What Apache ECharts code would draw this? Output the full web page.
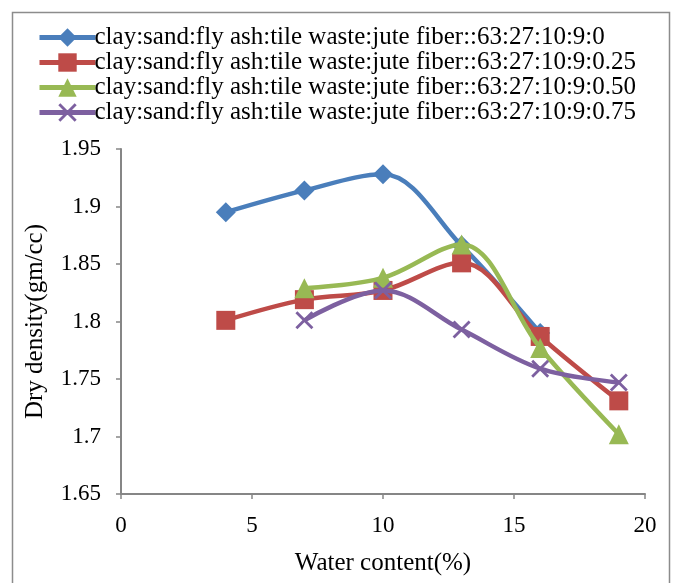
<!DOCTYPE html>
<html><head><meta charset="utf-8">
<script src="https://cdn.jsdelivr.net/npm/echarts@6/dist/echarts.min.js"></script>
<style>html,body{margin:0;padding:0;background:#fff}#c{width:673px;height:583px}</style>
</head><body><div id="c"></div>
<script>
const seriesNames = [
  'clay:sand:fly ash:tile waste:jute fiber::63:27:10:9:0',
  'clay:sand:fly ash:tile waste:jute fiber::63:27:10:9:0.25',
  'clay:sand:fly ash:tile waste:jute fiber::63:27:10:9:0.50',
  'clay:sand:fly ash:tile waste:jute fiber::63:27:10:9:0.75'
];
const water0 = [4, 7, 10, 13, 16];
const density0 = [1.895, 1.914, 1.928, 1.866, 1.790];
const water25 = [4, 7, 10, 13, 16, 19];
const density25 = [1.801, 1.819, 1.827, 1.851, 1.787, 1.731];
const water50 = [7, 10, 13, 16, 19];
const density50 = [1.829, 1.838, 1.867, 1.777, 1.702];
const water75 = [7, 10, 13, 16, 19];
const density75 = [1.801, 1.827, 1.793, 1.759, 1.747];
const yTicks = ['1.65','1.7','1.75','1.8','1.85','1.9','1.95'];

const colors = ['#4a7ebb', '#be4b48', '#98b954', '#7d60a0'];
const symbols = ['diamond', 'rect', 'triangle',
  'path://M0,1.1L1.1,0L10,8.9L8.9,10Z M8.9,0L10,1.1L1.1,10L0,8.9Z'];
const sizes = [20, 19, 20, 18];
const xs = [water0, water25, water50, water75];
const ys = [density0, density25, density50, density75];
const font = 'Liberation Serif';

const chart = echarts.init(document.getElementById('c'), null, {renderer: 'canvas'});
chart.setOption({
  animation: false,
  backgroundColor: '#fff',
  textStyle: {fontFamily: font, color: '#000'},
  graphic: [{
    type: 'rect', left: 10, top: 10,
    shape: {width: 657, height: 600},
    style: {fill: 'none', stroke: '#8c8c8c', lineWidth: 1.5}
  }],
  legend: {
    orient: 'vertical', left: 32, top: 20, itemGap: 0,
    itemWidth: 56, itemHeight: 23,
    lineStyle: {width: 5},
    textStyle: {fontFamily: font, fontSize: 25, lineHeight: 24, color: '#000', padding: [0,0,0,-6]},
    data: seriesNames
  },
  grid: {left: 121, right: 28, top: 149, bottom: 89, containLabel: false},
  xAxis: {
    type: 'value', min: 0, max: 20, interval: 5,
    name: 'Water content(%)', nameLocation: 'middle', nameGap: 57,
    nameTextStyle: {fontFamily: font, fontSize: 25, color: '#000'},
    axisLine: {show: true, lineStyle: {color: '#868686', width: 2}},
    axisTick: {show: true, length: 5, lineStyle: {color: '#868686', width: 1.5}},
    axisLabel: {fontFamily: font, fontSize: 23, color: '#000', margin: 20},
    splitLine: {show: false}
  },
  yAxis: {
    type: 'value', min: 1.65, max: 1.95, interval: 0.05,
    name: 'Dry density(gm/cc)', nameLocation: 'middle', nameGap: 73,
    nameTextStyle: {fontFamily: font, fontSize: 25, color: '#000'},
    axisLine: {show: true, lineStyle: {color: '#868686', width: 2}},
    axisTick: {show: true, length: 5, lineStyle: {color: '#868686', width: 1.5}},
    axisLabel: {fontFamily: font, fontSize: 23, color: '#000', margin: 20,
      formatter: v => yTicks.find(t => Math.abs(parseFloat(t) - v) < 1e-6) || ''},
    splitLine: {show: false}
  },
  series: seriesNames.map((n, i) => ({
    name: n, type: 'line', smooth: 0.35,
    data: xs[i].map((x, j) => [x, ys[i][j]]),
    symbol: symbols[i], symbolSize: sizes[i],
    lineStyle: {color: colors[i], width: 4.5},
    itemStyle: {color: colors[i]},
    z: 2 + i
  }))
});
</script></body></html>
